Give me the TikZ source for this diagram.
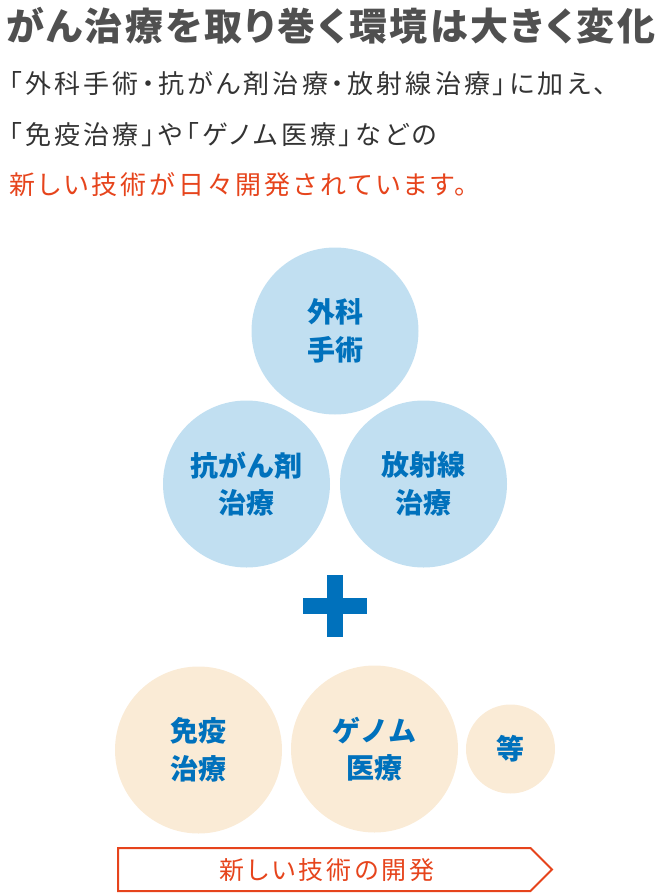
\documentclass[tikz,border=0pt]{standalone}
\usepackage{fontspec}
\setmainfont{Noto Sans CJK JP}
\newfontfamily\ttlfont{Noto Sans CJK JP}[RawFeature=+palt, LetterSpace=6.6]
\newfontfamily\leadfont{Noto Sans CJK JP}[RawFeature=+palt, LetterSpace=12.3]
\usetikzlibrary{positioning,shapes.symbols}
\definecolor{ttlgray}{RGB}{80,80,80}
\definecolor{txtgray}{RGB}{51,51,51}
\definecolor{accred}{RGB}{230,68,28}
\definecolor{cirblue}{RGB}{193,223,241}
\definecolor{cirbeige}{RGB}{250,235,214}
\definecolor{txtblue}{RGB}{0,113,188}
\tikzset{
  ttl/.style={anchor=west, inner sep=0pt, text=ttlgray,
              font=\ttlfont\fontsize{38}{42}\selectfont\bfseries},
  lead/.style={anchor=west, inner sep=0pt, text=txtgray,
               font=\leadfont\fontsize{26}{30}\selectfont},
  leadR/.style={lead, text=accred},
  oldc/.style={circle, fill=cirblue, minimum size=167pt, inner sep=0pt,
               align=center, text=txtblue, font=\fontsize{28}{37.5}\selectfont\bfseries},
  newc/.style={oldc, fill=cirbeige},
  etcc/.style={newc, minimum size=89pt},
  plusbar/.style={fill=txtblue, draw=none},
  devarr/.style={signal, signal to=east, draw=accred, line width=2pt, inner sep=0pt,
                 minimum width=434pt, minimum height=43pt, anchor=west},
  devlbl/.style={text=accred, inner sep=0pt, font=\leadfont\fontsize{25}{28}\selectfont},
}

\begin{document}
\begin{tikzpicture}[x=1pt, y=-1pt]
\useasboundingbox (0,0) rectangle (670,894);

% ============================ heading ===================================
\node[ttl] (title) at (6,26) {がん治療を取り巻く環境は大きく変化};
\node[lead]  (ld1) at (9,84)  {「外科手術・抗がん剤治療・放射線治療」に加え、};
\node[lead]  (ld2) at (9,135) {「免疫治療」や「ゲノム医療」などの};
\node[leadR] (ld3) at (9,185) {新しい技術が日々開発されています。};

% ============================ standard treatments =======================
\node[oldc] (surg) at (335,331)   {外科\\手術};
\node[oldc] (chemo) at (246.5,484) {抗がん剤\\治療};
\node[oldc] (radio) at (423.5,484) {放射線\\治療};

% ============================ plus ======================================
\coordinate (plus) at (335,606);
\fill[plusbar] ([xshift=-32pt, yshift=8pt]plus) rectangle ([xshift=32pt, yshift=-8pt]plus);
\fill[plusbar] ([xshift=-8pt, yshift=31pt]plus) rectangle ([xshift=8pt, yshift=-31pt]plus);

% ============================ new treatments ============================
\node[newc] (immu) at (198.5,750) {免疫\\治療};
\node[newc] (geno) at (374.5,749) {ゲノム\\医療};
\node[etcc] (etc)  at (510.5,749) {等};

% ============================ development arrow =========================
\node[devarr] (dev) at (117,869.5) {};
\node[devlbl] (devt) at (327,870) {新しい技術の開発};

\end{tikzpicture}
\end{document}
